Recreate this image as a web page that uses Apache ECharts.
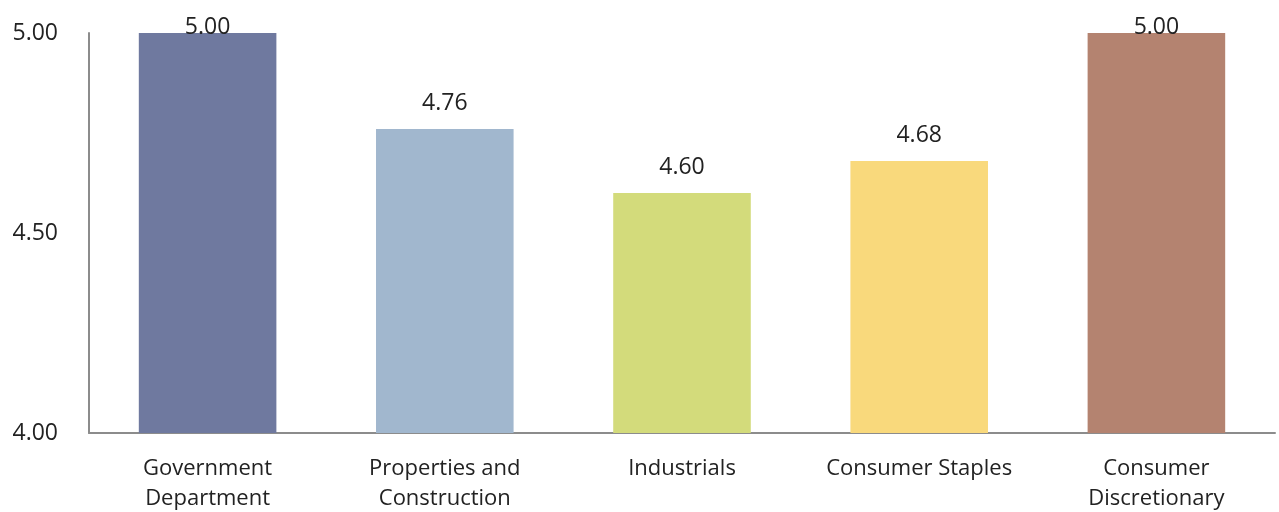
<!DOCTYPE html>
<html>
<head>
<meta charset="utf-8">
<script src="https://cdn.jsdelivr.net/npm/echarts@6/dist/echarts.min.js"></script>
<style>
  html, body { margin: 0; padding: 0; background: #ffffff; }
  #chart { width: 1279px; height: 512px; }
</style>
</head>
<body>
<div id="chart"></div>
<script>
// Sector scores
const categories = ['Government\nDepartment', 'Properties and\nConstruction', 'Industrials', 'Consumer Staples', 'Consumer\nDiscretionary'];
const scores = [5.00, 4.76, 4.60, 4.68, 5.00];
const barColors = ['#6f799f', '#a1b7ce', '#d3db7b', '#f9d97c', '#b48370'];
const yTicks = { min: 4.0, max: 5.0, interval: 0.5 };

const font = '"Open Sans", "Noto Sans", sans-serif';

const chart = echarts.init(document.getElementById('chart'), null, { renderer: 'canvas' });

const barData = scores.map((v, i) => ({
  value: v,
  itemStyle: { color: barColors[i] },
  // labels at the top of the scale sit just over the bar edge
  label: v >= yTicks.max ? { distance: -6 } : { distance: 14 }
}));

chart.setOption({
  animation: false,
  grid: { left: 89, right: 4, top: 33, bottom: 79, containLabel: false, outerBoundsMode: 'none' },
  xAxis: {
    type: 'category',
    data: categories,
    axisLine: { lineStyle: { color: '#8c8c8c', width: 2 } },
    axisTick: { show: false },
    axisLabel: {
      color: '#222',
      fontFamily: font,
      fontSize: 22,
      lineHeight: 30,
      margin: 21,
      interval: 0
    }
  },
  yAxis: {
    type: 'value',
    min: yTicks.min,
    max: yTicks.max,
    interval: yTicks.interval,
    axisLine: { show: true, lineStyle: { color: '#8c8c8c', width: 2 } },
    axisTick: { show: false },
    splitLine: { show: false },
    axisLabel: {
      color: '#222',
      fontFamily: font,
      fontSize: 23,
      margin: 31,
      formatter: v => v.toFixed(2)
    }
  },
  series: [{
    type: 'bar',
    data: barData,
    barCategoryGap: '42%',
    label: {
      show: true,
      position: 'top',
      color: '#222',
      fontFamily: font,
      fontSize: 23,
      formatter: p => p.value.toFixed(2)
    }
  }]
});
</script>
</body>
</html>
